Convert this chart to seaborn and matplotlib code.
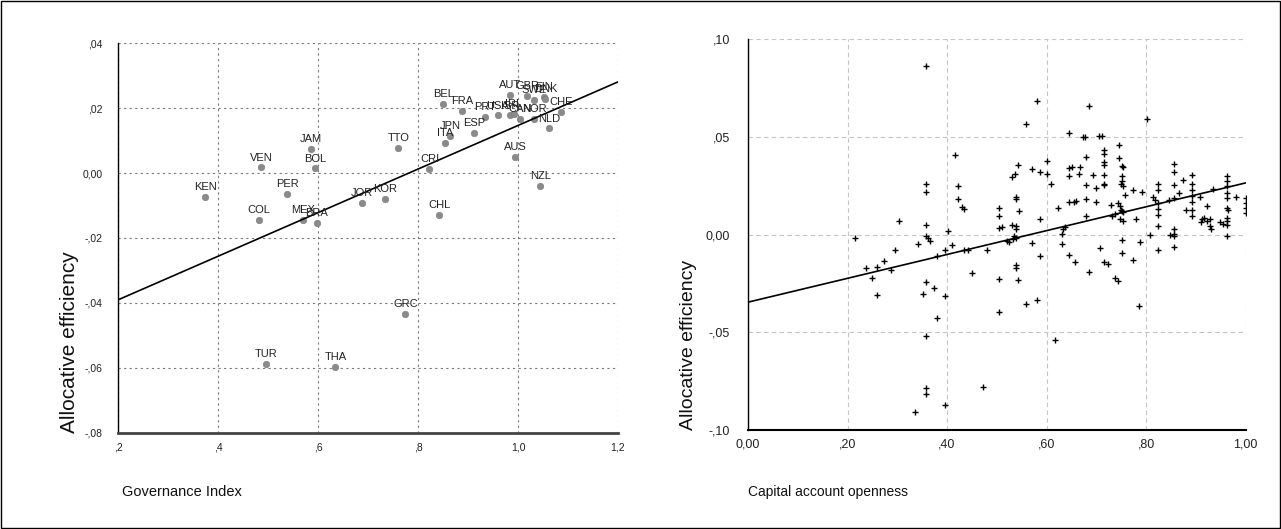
import matplotlib
matplotlib.use("Agg")
import matplotlib.pyplot as plt
from matplotlib.patches import Rectangle
import seaborn as sns
import pandas as pd

# ---- Panel 1: governance index vs allocative efficiency (by country) ----
countries = ["KEN", "VEN", "JAM", "BOL", "PER", "COL", "MEX", "BRA", "JOR", "KOR",
             "TTO", "CRI", "CHL", "GRC", "TUR", "THA", "BEL", "FRA", "ITA", "JPN",
             "ESP", "PRT", "USA", "ISR", "IRL", "CAN", "NOR", "AUT", "GBR", "SWE",
             "FIN", "DNK", "CHE", "NLD", "AUS", "NZL"]
governance = [0.375, 0.487, 0.586, 0.594, 0.539, 0.482, 0.571, 0.598, 0.688, 0.734,
              0.761, 0.823, 0.843, 0.775, 0.496, 0.635, 0.851, 0.889, 0.854, 0.865,
              0.912, 0.934, 0.960, 0.984, 0.992, 1.004, 1.032, 0.985, 1.019, 1.032,
              1.053, 1.055, 1.087, 1.063, 0.995, 1.045]
efficiency_gov = [-0.0075, 0.0017, 0.0074, 0.0014, -0.0064, -0.0144, -0.0144, -0.0153, -0.0093, -0.0080,
                  0.0078, 0.0011, -0.0130, -0.0435, -0.0589, -0.0598, 0.0213, 0.0190, 0.0093, 0.0115,
                  0.0124, 0.0173, 0.0177, 0.0177, 0.0182, 0.0167, 0.0167, 0.0241, 0.0238, 0.0226,
                  0.0234, 0.0228, 0.0187, 0.0137, 0.0050, -0.0039]

gov_xticks = [0.2, 0.4, 0.6, 0.8, 1.0, 1.2]
gov_xticklabels = [",2", ",4", ",6", ",8", "1,0", "1,2"]
gov_yticks = [-0.08, -0.06, -0.04, -0.02, 0.00, 0.02, 0.04]
gov_yticklabels = ["-,08", "-,06", "-,04", "-,02", "0,00", ",02", ",04"]

# ---- Panel 2: capital account openness vs allocative efficiency ----
openness = [
    0.357, 0.415, 0.357, 0.357, 0.423, 0.423, 0.431, 0.435, 0.303, 0.357,
    0.215, 0.357, 0.361, 0.366, 0.342, 0.401, 0.410, 0.296, 0.395, 0.380,
    0.435, 0.443, 0.274, 0.237, 0.259, 0.287, 0.250, 0.259, 0.357, 0.351,
    0.373, 0.395, 0.380, 0.357, 0.357, 0.357, 0.336, 0.395,
    0.451, 0.472, 0.480,
    0.5035, 0.5035, 0.5035, 0.510, 0.5035, 0.5035,
    0.521, 0.525,
    0.531, 0.536, 0.543,
    0.538, 0.538, 0.545,
    0.531, 0.538, 0.538, 0.535, 0.538, 0.532,
    0.538, 0.538, 0.542,
    0.558, 0.580, 0.571, 0.587, 0.600, 0.600, 0.609,
    0.587, 0.571, 0.587, 0.558, 0.580, 0.617,
    0.622, 0.630, 0.633, 0.638, 0.630,
    0.646, 0.646, 0.652, 0.646, 0.667, 0.665,
    0.646, 0.655, 0.659,
    0.646, 0.658,
    0.674, 0.678, 0.679, 0.679, 0.679, 0.679, 0.686, 0.686,
    0.694, 0.700, 0.699,
    0.706, 0.711,
    0.716, 0.716, 0.716, 0.716, 0.716, 0.716, 0.716,
    0.708, 0.716, 0.723, 0.738, 0.744,
    0.729, 0.731, 0.738, 0.744, 0.748, 0.749, 0.751, 0.753, 0.748, 0.753,
    0.746, 0.746, 0.751, 0.753,
    0.751, 0.751, 0.750, 0.753, 0.758,
    0.752, 0.751,
    0.773, 0.780, 0.787, 0.773, 0.786, 0.792, 0.801, 0.807,
    0.814, 0.818,
    0.8235, 0.8235, 0.8235, 0.8235, 0.8235, 0.8235, 0.8235,
    0.845, 0.847, 0.857, 0.857, 0.857, 0.857,
    0.857, 0.857, 0.857, 0.857,
    0.867, 0.874,
    0.892, 0.892, 0.892, 0.892, 0.892, 0.892, 0.892,
    0.880, 0.908, 0.922,
    0.912, 0.917, 0.922, 0.928, 0.928, 0.930, 0.910,
    0.935, 0.949, 0.955,
    0.9625, 0.9625, 0.9625, 0.9625, 0.9625, 0.9625, 0.965, 0.9625, 0.9625, 0.9625, 0.9625,
    0.980,
    1.0, 1.0, 1.0, 1.0,
]
efficiency_open = [
    0.0861, 0.0408, 0.0261, 0.0217, 0.0247, 0.0184, 0.0142, 0.0133, 0.0068, 0.0048,
    -0.0020, -0.0009, -0.0017, -0.0031, -0.0046, 0.0020, -0.0055, -0.0080, -0.0080, -0.0111,
    -0.0077, -0.0080, -0.0133, -0.0171, -0.0167, -0.0182, -0.0223, -0.0307, -0.0244, -0.0302,
    -0.0271, -0.0312, -0.0428, -0.0517, -0.0784, -0.0818, -0.0907, -0.0873,
    -0.0199, -0.0779, -0.0080,
    0.0136, 0.0097, 0.0034, 0.0039, -0.0225, -0.0397,
    -0.0035, -0.0040,
    0.0295, 0.0312, 0.0355,
    0.0191, 0.0184, 0.0119,
    0.0051, 0.0043, 0.0029, -0.0009, -0.0017, -0.0022,
    -0.0155, -0.0172, -0.0235,
    0.0563, 0.0685, 0.0334, 0.0321, 0.0375, 0.0310, 0.0259,
    0.0082, -0.0043, -0.0111, -0.0355, -0.0336, -0.0540,
    0.0136, 0.0005, 0.0026, 0.0036, -0.0046,
    0.0517, 0.0338, 0.0344, 0.0298, 0.0346, 0.0310,
    0.0165, 0.0165, 0.0174,
    -0.0107, -0.0143,
    0.0500, 0.0500, 0.0397, 0.0252, 0.0184, 0.0097, 0.0660, -0.0193,
    0.0302, 0.0239, 0.0165,
    0.0503, 0.0503,
    0.0431, 0.0414, 0.0370, 0.0358, 0.0307, 0.0261, 0.0251,
    -0.0068, -0.0140, -0.0150, -0.0222, -0.0239,
    0.0153, 0.0094, 0.0106, 0.0159, 0.0145, 0.0128, 0.0119, 0.0114, 0.0080, 0.0068,
    0.0457, 0.0389, 0.0350, 0.0345,
    0.0298, 0.0273, 0.0256, 0.0247, 0.0201,
    -0.0029, -0.0094,
    0.0230, 0.0077, -0.0038, -0.0131, -0.0367, 0.0218, 0.0593, 0.0000,
    0.0193, 0.0176,
    0.0261, 0.0230, 0.0162, 0.0131, 0.0102, 0.0043, -0.0080,
    0.0176, 0.0000, 0.0026, 0.0005, -0.0009, -0.0063,
    0.0363, 0.0319, 0.0251, 0.0188,
    0.0213, 0.0278,
    0.0307, 0.0256, 0.0230, 0.0196, 0.0165, 0.0128, 0.0094,
    0.0123, 0.0193, 0.0145,
    0.0077, 0.0085, 0.0068, 0.0077, 0.0043, 0.0026, 0.0063,
    0.0234, 0.0063, 0.0054,
    0.0298, 0.0273, 0.0247, 0.0213, 0.0188, 0.0136, 0.0128, 0.0085, 0.0068, 0.0051, -0.0009,
    0.0193,
    0.0188, 0.0162, 0.0136, 0.0111,
]
# Fitted linear trend for the openness panel (estimated on the full panel,
# which includes observations stacked on top of each other)
open_fit_intercept = -0.0346
open_fit_slope = 0.0610

open_xticks = [0.0, 0.2, 0.4, 0.6, 0.8, 1.0]
open_xticklabels = ["0,00", ",20", ",40", ",60", ",80", "1,00"]
open_yticks = [-0.10, -0.05, 0.00, 0.05, 0.10]
open_yticklabels = ["-,10", "-,05", "0,00", ",05", ",10"]

gov_df = pd.DataFrame({"country": countries, "governance": governance,
                       "efficiency": efficiency_gov})
open_df = pd.DataFrame({"openness": openness, "efficiency": efficiency_open})

sns.set_style("white")
plt.rcParams["font.family"] = ["Liberation Sans", "DejaVu Sans"]

fig = plt.figure(figsize=(12.81, 5.29), dpi=100)
fig.patches.append(Rectangle((0.0008, 0.001), 0.9984, 0.997, transform=fig.transFigure,
                             fill=False, edgecolor="black", linewidth=1.0))

ax1 = fig.add_axes([0.0921, 0.1815, 0.3903, 0.7372])
ax2 = fig.add_axes([0.5839, 0.1871, 0.3885, 0.7391])

# Left panel
ax1.set_xlim(0.2, 1.2)
ax1.set_ylim(-0.08, 0.04)
ax1.set_xticks(gov_xticks)
ax1.set_xticklabels(gov_xticklabels)
ax1.set_yticks(gov_yticks)
ax1.set_yticklabels(gov_yticklabels)
ax1.grid(True, color="#7a7a7a", linestyle=(0, (2.0, 3.0)), linewidth=0.8)
ax1.set_axisbelow(True)
sns.scatterplot(data=gov_df, x="governance", y="efficiency", ax=ax1,
                color="#8a8a8a", edgecolor="#7a7a7a", linewidth=0.4, s=22,
                zorder=3, legend=False)
sns.regplot(data=gov_df, x="governance", y="efficiency", ax=ax1, scatter=False,
            ci=None, truncate=False, line_kws={"color": "black", "linewidth": 1.2, "zorder": 4})
for name, gx, gy in zip(countries, governance, efficiency_gov):
    ax1.annotate(name, (gx, gy), xytext=(0, 5), textcoords="offset points",
                 ha="center", va="baseline", fontsize=8, color="#222222", zorder=5)
ax1.set_xlim(0.2, 1.2)
ax1.set_ylim(-0.08, 0.04)
ax1.set_xlabel("")
ax1.set_ylabel("")
ax1.tick_params(axis="both", length=0, labelsize=7.5, colors="#222222")
ax1.tick_params(axis="x", pad=7)
ax1.tick_params(axis="y", pad=11)
for side in ("top", "right"):
    ax1.spines[side].set_visible(False)
ax1.spines["left"].set_color("black")
ax1.spines["left"].set_linewidth(1.0)
ax1.spines["bottom"].set_color("#444444")
ax1.spines["bottom"].set_linewidth(2.0)
ax1.text(-0.096, 0.0, "Allocative efficiency", transform=ax1.transAxes, rotation=90,
         ha="center", va="bottom", fontsize=15, color="#111111")
ax1.text(0.008, -0.151, "Governance Index", transform=ax1.transAxes,
         ha="left", va="center", fontsize=10.5, color="#111111")

# Right panel
ax2.set_xlim(0.0, 1.0)
ax2.set_ylim(-0.10, 0.10)
ax2.set_xticks(open_xticks)
ax2.set_xticklabels(open_xticklabels)
ax2.set_yticks(open_yticks)
ax2.set_yticklabels(open_yticklabels)
ax2.grid(True, color="#c4c4c4", linestyle=(0, (4.0, 3.0)), linewidth=0.8)
ax2.set_axisbelow(True)
sns.scatterplot(data=open_df, x="openness", y="efficiency", ax=ax2, marker="+",
                color="black", linewidth=1.0, s=24, zorder=3, legend=False)
ax2.axline((0.0, open_fit_intercept), slope=open_fit_slope, color="black",
           linewidth=1.2, zorder=4)
ax2.set_xlim(0.0, 1.0)
ax2.set_ylim(-0.10, 0.10)
ax2.set_xlabel("")
ax2.set_ylabel("")
ax2.tick_params(axis="both", length=0, labelsize=9, colors="#222222")
ax2.tick_params(axis="x", pad=6)
ax2.tick_params(axis="y", pad=13)
for side in ("top", "right"):
    ax2.spines[side].set_visible(False)
ax2.spines["left"].set_color("black")
ax2.spines["left"].set_linewidth(1.0)
ax2.spines["bottom"].set_color("black")
ax2.spines["bottom"].set_linewidth(1.5)
ax2.text(-0.1186, 0.0, "Allocative efficiency", transform=ax2.transAxes, rotation=90,
         ha="center", va="bottom", fontsize=14, color="#111111")
ax2.text(0.0, -0.159, "Capital account openness", transform=ax2.transAxes,
         ha="left", va="center", fontsize=10, color="#111111")

fig.savefig("out.png", dpi=100)
